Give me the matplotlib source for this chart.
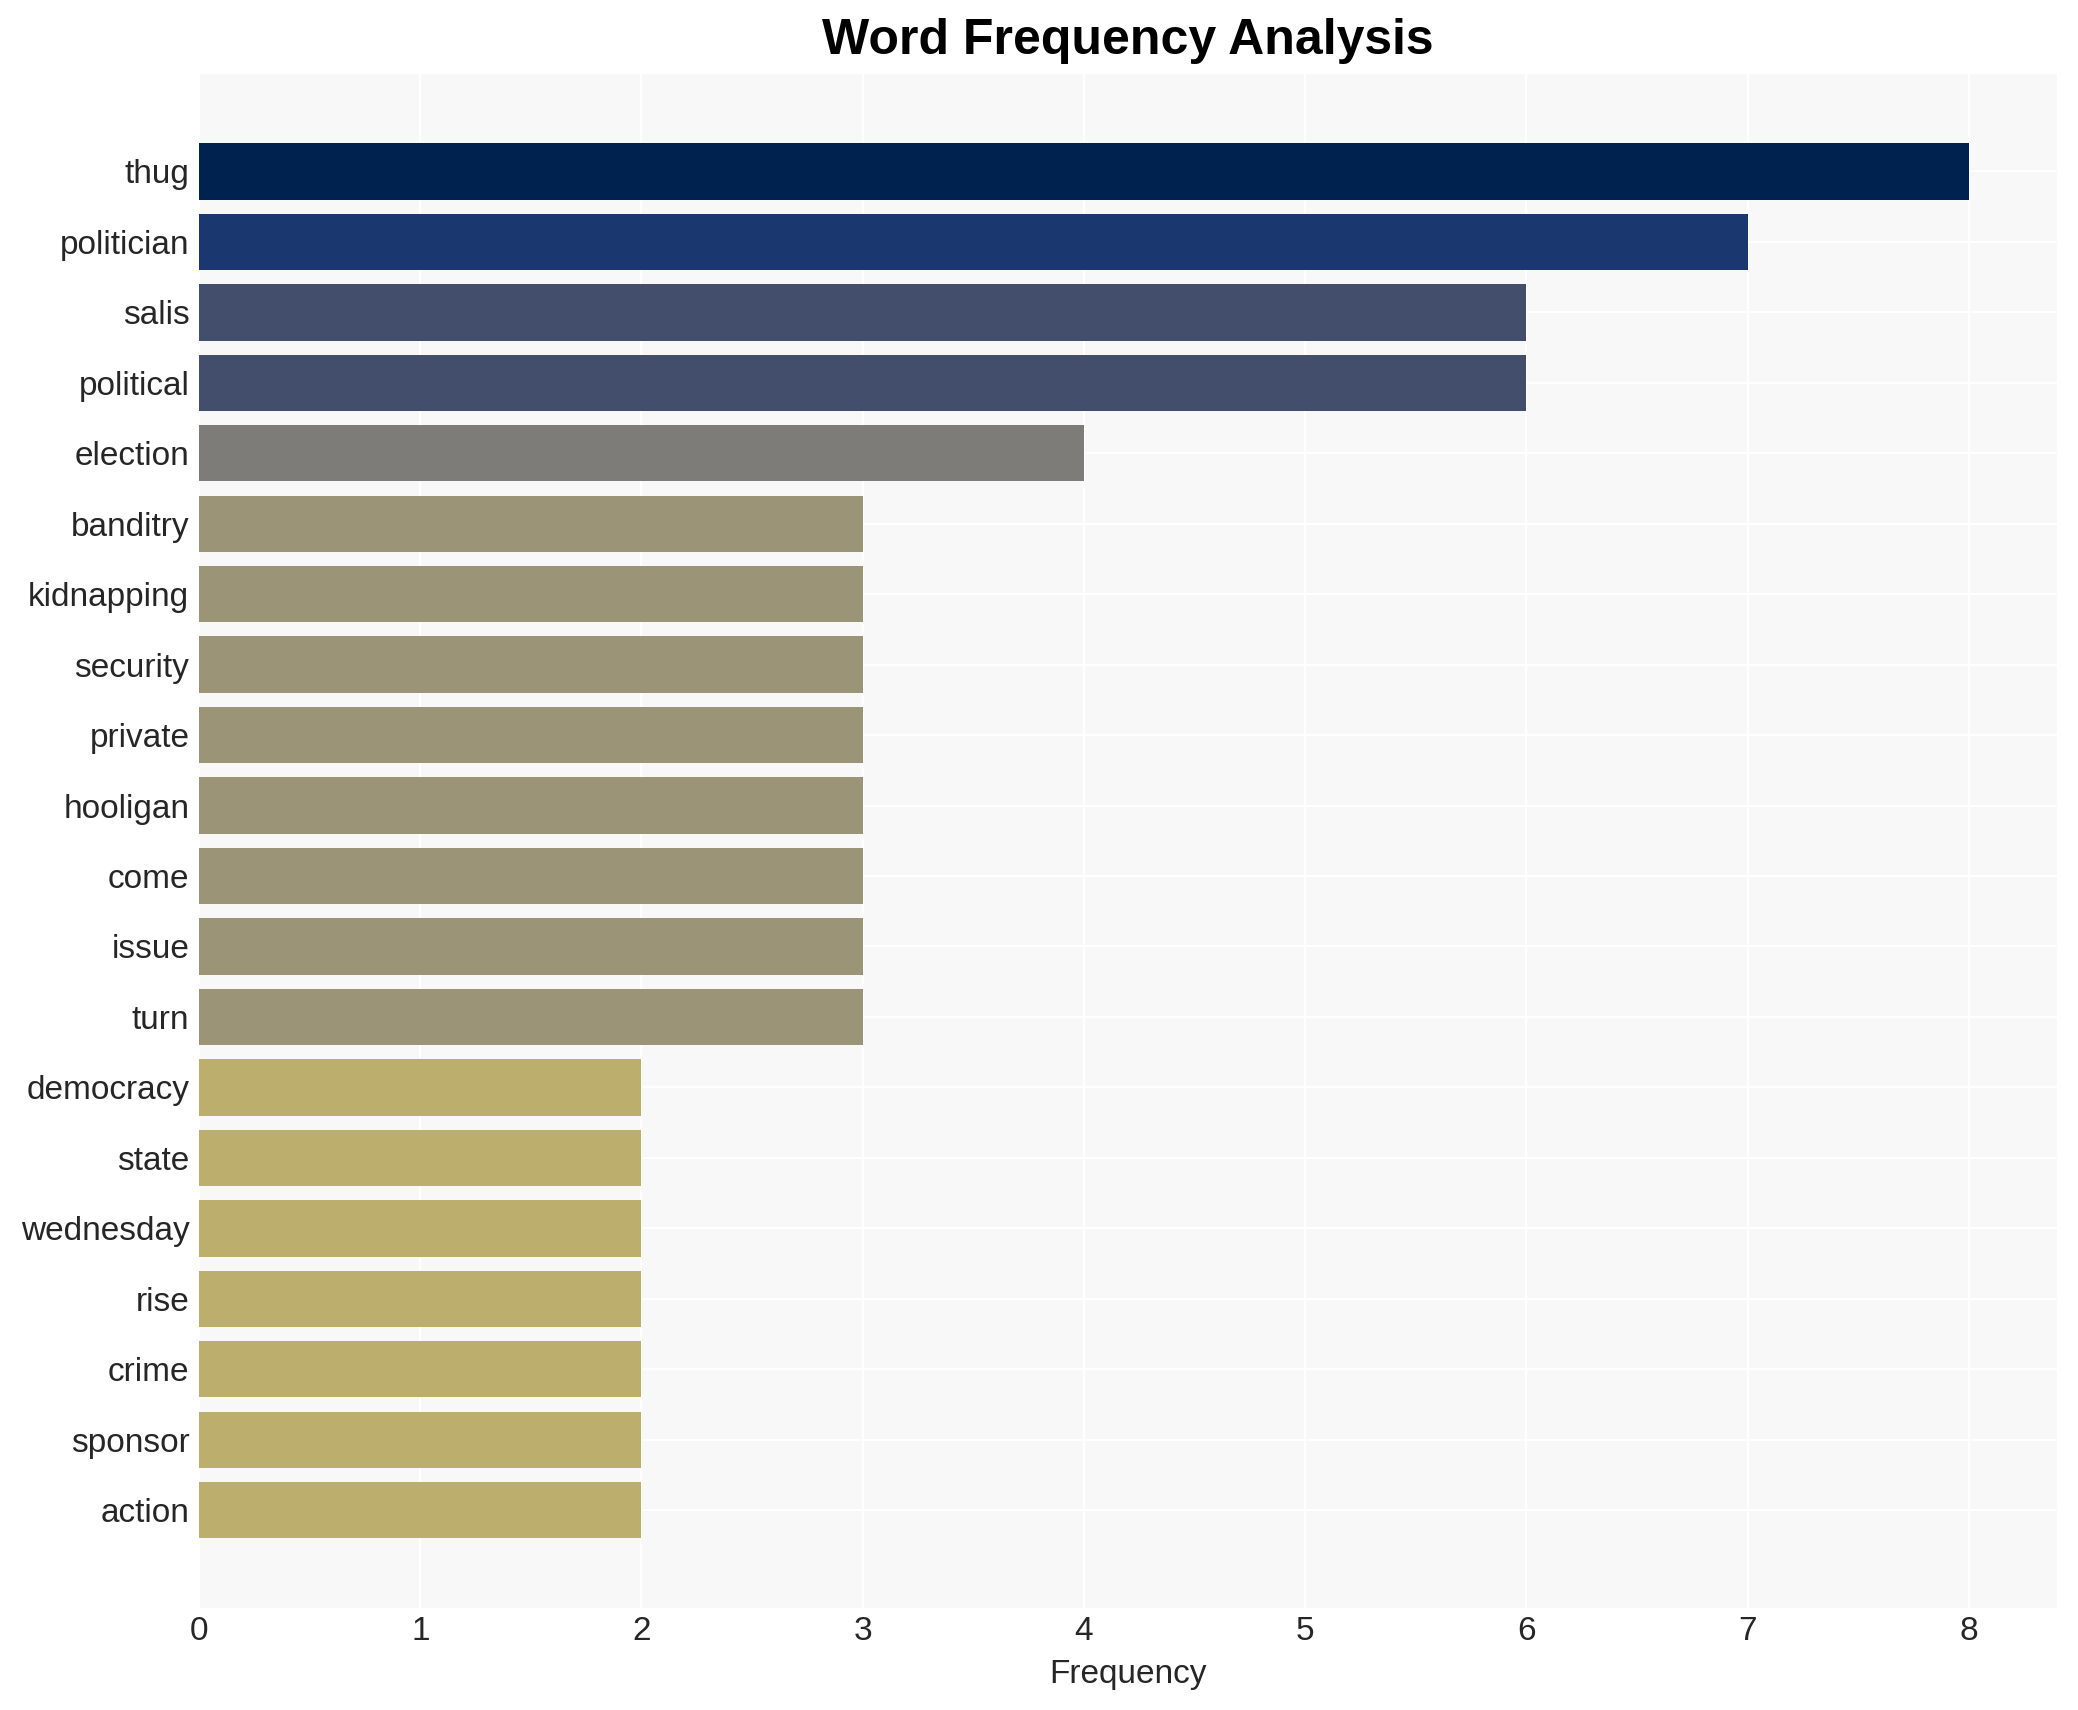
import numpy as np
import matplotlib
matplotlib.use("Agg")
import matplotlib.pyplot as plt

words = ["thug", "politician", "salis", "political", "election", "banditry",
         "kidnapping", "security", "private", "hooligan", "come", "issue", "turn",
         "democracy", "state", "wednesday", "rise", "crime", "sponsor", "action"]
counts = [8, 7, 6, 6, 4, 3, 3, 3, 3, 3, 3, 3, 3, 2, 2, 2, 2, 2, 2, 2]

plt.rcParams['font.family'] = ['Liberation Sans', 'DejaVu Sans']

fig = plt.figure(figsize=(10.39, 8.55), dpi=200)
ax = fig.add_axes([0.0958, 0.0596, 0.8942, 0.8974])
ax.set_facecolor('#f8f8f8')

vals = np.array(counts, dtype=float)
colors = plt.cm.cividis(1 - vals / vals.max())
y = np.arange(len(words))
ax.barh(y, vals, color=colors, height=0.8, zorder=2)
ax.invert_yaxis()
ax.set_yticks(y)
ax.set_yticklabels(words)

ax.grid(True, color='white', linewidth=0.8, zorder=0)
ax.set_axisbelow(True)
for s in ax.spines.values():
    s.set_visible(False)
ax.tick_params(length=0, labelsize=12, labelcolor='#262626')
ax.tick_params(axis='y', pad=3.5)
ax.tick_params(axis='x', pad=3)
ax.set_xlabel('Frequency', fontsize=12, color='#262626', labelpad=4)
ax.set_title('Word Frequency Analysis', fontsize=18, fontweight='bold', pad=7)

fig.savefig('out.png', dpi=200)
